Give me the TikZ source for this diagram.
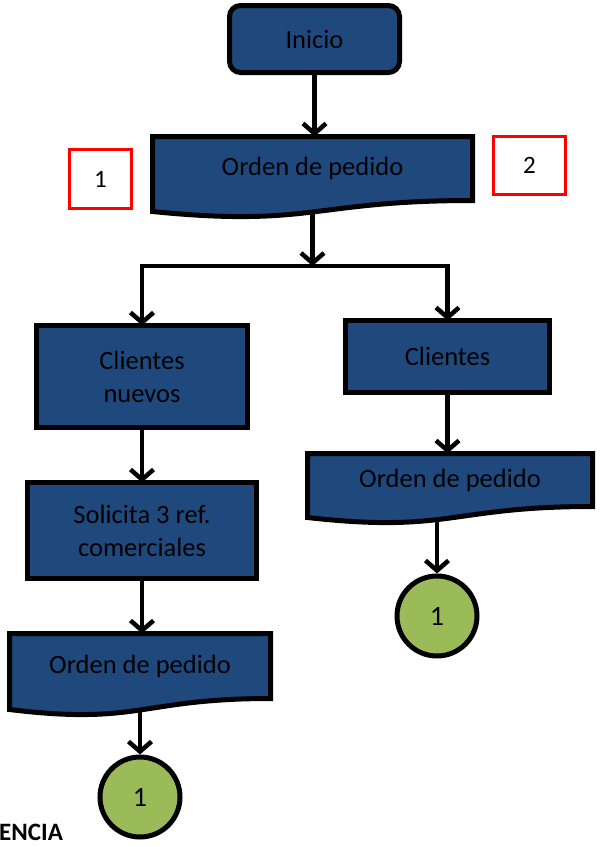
\documentclass[tikz,border=0pt]{standalone}
\usepackage{fontspec}
\setmainfont{Carlito}
\usepackage{tikz}
\usetikzlibrary{arrows.meta,positioning,backgrounds,calc}
\definecolor{boxblue}{RGB}{31,73,125}
\definecolor{endgreen}{RGB}{155,187,89}

\begin{document}
\begin{tikzpicture}[
    x=1pt, y=-1pt,
    box/.style={rectangle, draw=black, line width=5pt, fill=boxblue, align=center, inner sep=0pt, outer sep=0pt, font=\fontsize{26.5}{33}\selectfont},
    startbox/.style={box, rounded corners=11pt},
    doc/.style={rectangle, inner sep=0pt, outer sep=0pt, align=center, font=\fontsize{26.5}{33}\selectfont},
    docshape/.style={draw=black, line width=5pt, fill=boxblue, line join=miter},
    tag/.style={rectangle, draw=red, line width=3.5pt, fill=white, inner sep=0pt, font=\fontsize{25}{30}\selectfont},
    link/.style={circle, draw=black, line width=5pt, fill=endgreen, minimum size=80pt, inner sep=0pt, font=\fontsize{28}{30}\selectfont},
    flow/.style={-{Straight Barb[length=10pt,width=23pt]}, line width=4.5pt},
    fork/.style={{Straight Barb[length=10pt,width=23pt]}-{Straight Barb[length=10pt,width=23pt]}, line width=4.5pt},
    cut/.style={font=\fontsize{25}{27}\selectfont\bfseries, inner sep=0pt}
]
\useasboundingbox (0,0) rectangle (601,847);

% ============ top ============
\node[startbox, minimum width=170pt, minimum height=67pt] (inicio) at (314.5,39) {Inicio};
\node[doc, minimum width=320pt, minimum height=64pt] (orden-top) at (312.5,168.5) {Orden de pedido};
\node[tag, minimum width=62pt, minimum height=59pt] (tag-1) at (100.5,179) {1};
\node[tag, minimum width=72pt, minimum height=58pt] (tag-2) at (529.5,165.5) {2};
\coordinate (split) at (312.5,266);

% ============ left branch ============
\node[box, minimum width=211pt, minimum height=102pt] (nuevos) at (142,376.5) {Clientes\\nuevos};
\node[box, minimum width=229pt, minimum height=96pt] (solicita) at (142,530.5) {Solicita 3 ref.\\comerciales};
\node[doc, minimum width=261pt, minimum height=65pt] (orden-left) at (140,666) {Orden de pedido};
\node[link] (end-left) at (140,797) {1};

% ============ right branch ============
\node[box, minimum width=204pt, minimum height=72pt] (clientes) at (447.5,356.5) {Clientes};
\node[doc, minimum width=285pt, minimum height=53pt] (orden-right) at (450,480) {Orden de pedido};
\node[link] (end-right) at (437,616) {1};

\node[cut, anchor=base west] (cut-text) at (-1,840) {ENCIA};

\begin{scope}[on background layer]
\foreach \d in {orden-top,orden-left,orden-right}
    \draw[docshape] (\d.north west) -- (\d.north east) -- (\d.south east)
        .. controls (\d.south) and ($(\d.south)+(0,27)$) .. ($(\d.south west)+(0,11)$) -- cycle;
\end{scope}

% ============ connectors ============
\draw[flow] (inicio.south) -- (inicio.south |- orden-top.north);
\draw[flow, shorten <=11pt] (orden-top.south) -- (split);
\draw[fork] (nuevos.north) -- (split -| nuevos) -- (split -| clientes) -- (clientes.north);
\draw[flow] (nuevos) -- (solicita);
\draw[flow] (solicita.south) -- (solicita.south |- orden-left.north);
\draw[flow, shorten <=11pt] (orden-left.south) -- (end-left);
\draw[flow] (clientes.south) -- (clientes.south |- orden-right.north);
\draw[flow, shorten <=11pt] (end-right |- orden-right.south) -- (end-right);

\end{tikzpicture}
\end{document}
